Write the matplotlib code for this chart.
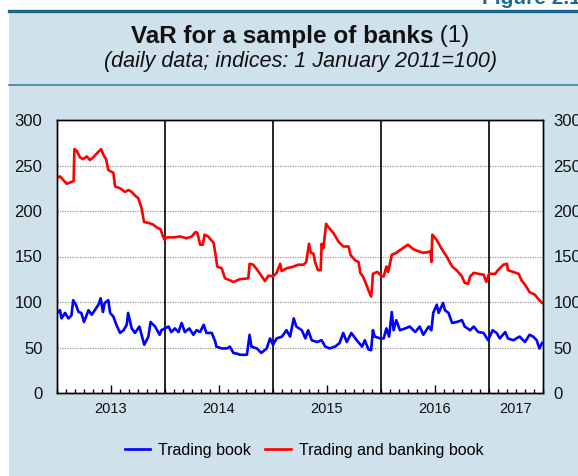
import matplotlib
matplotlib.use("Agg")
import matplotlib.pyplot as plt
from matplotlib.patches import Rectangle
from matplotlib.lines import Line2D
import matplotlib.transforms as mtransforms

plt.rcParams['font.family'] = ['Liberation Sans', 'DejaVu Sans']

# ---- data (x = months since 1 Jan 2013) ----
years = ['2013', '2014', '2015', '2016', '2017']
year_label_pos = [6, 18, 30, 42, 51]
year_bounds = [12, 24, 36, 48]

red_m = [0, 0.33, 0.7, 1.08, 1.63, 1.85, 1.93, 2.2, 2.55, 2.9, 3.3, 3.67, 4.03, 4.4, 4.9, 5.15, 5.45, 5.7,
         6.26, 6.45, 7.0, 7.55, 7.93, 8.3, 8.67, 9.04, 9.4, 9.67, 10.15, 10.7, 11.07, 11.5, 11.7, 11.96,
         12.1, 12.93, 13.67, 14.4, 14.97, 15.4, 15.6, 15.9, 16.2, 16.4, 16.8, 17.4, 17.6, 17.8, 18.3,
         18.67, 19.2, 19.6, 20.3, 21.26, 21.4, 21.8, 22.2, 22.7, 23.1, 23.5, 24.0, 24.4, 24.8, 24.96,
         25.5, 26.3, 26.8, 27.4, 27.7, 28.0, 28.2, 28.5, 28.7, 29.0, 29.3, 29.4, 29.6, 29.9, 30.1, 30.7,
         31.3, 31.8, 32.4, 32.6, 33.1, 33.5, 33.7, 34.0, 34.3, 34.6, 34.9, 35.0, 35.1, 35.6, 36.0, 36.3,
         36.6, 36.8, 37.2, 37.7, 38.1, 38.7, 39.0, 39.6, 40.1, 40.7, 41.3, 41.5, 41.6, 41.7, 42.2, 42.7,
         43.3, 43.9, 44.4, 45.0, 45.3, 45.7, 45.9, 46.3, 46.8, 47.4, 47.7, 48.0, 48.7, 49.0, 49.6, 50.0,
         50.1, 50.7, 51.3, 51.6, 52.0, 52.5, 53.1, 53.5, 53.9]
red_v = [236, 238, 234, 230, 232, 233, 268, 266, 259, 257, 260, 256, 259, 263, 268, 262, 257, 245,
         242, 227, 225, 221, 223, 221, 217, 214, 203, 188, 187, 185, 182, 180, 174, 168,
         171, 171, 172, 170, 172, 177, 176, 163, 163, 174, 172, 165, 153, 139, 137,
         126, 124, 122, 125, 126, 142, 141, 136, 129, 123, 129, 128, 132, 142, 134,
         137, 139, 141, 141, 144, 164, 154, 153, 143, 135, 135, 164, 159, 186, 183, 176,
         166, 161, 161, 152, 146, 144, 132, 128, 121, 113, 106, 115, 131, 133, 129, 128,
         139, 133, 152, 154, 157, 161, 163, 158, 156, 154, 155, 156, 144, 174, 168, 159,
         150, 139, 135, 128, 121, 120, 128, 132, 131, 130, 122, 131, 131, 135, 141, 142,
         135, 133, 131, 124, 119, 111, 108, 103, 99]

blue_m = [0, 0.33, 0.5, 0.9, 1.26, 1.6, 1.8, 2.1, 2.4, 2.7, 3.0, 3.5, 3.85, 4.2, 4.6, 4.85, 5.1, 5.3,
          5.7, 5.9, 6.26, 6.6, 7.0, 7.4, 7.75, 7.9, 8.3, 8.67, 9.15, 9.4, 9.7, 10.15, 10.4, 10.9, 11.4,
          11.6, 12.0, 12.4, 12.7, 13.1, 13.5, 13.85, 14.2, 14.7, 15.15, 15.5, 15.9, 16.3, 16.6, 17.2,
          17.6, 17.7, 18.3, 18.9, 19.2, 19.6, 20.1, 20.3, 21.1, 21.4, 21.6, 22.2, 22.7, 23.3, 23.67,
          24.0, 24.4, 25.0, 25.5, 25.9, 26.3, 26.6, 27.2, 27.6, 27.9, 28.3, 28.9, 29.4, 29.8, 30.3,
          30.9, 31.4, 31.8, 32.2, 32.7, 33.3, 33.9, 34.2, 34.6, 34.9, 35.1, 35.3, 35.9, 36.3, 36.6,
          36.9, 37.2, 37.4, 37.7, 38.1, 38.7, 39.2, 39.8, 40.3, 40.7, 41.3, 41.6, 41.8, 42.2, 42.4,
          42.9, 43.1, 43.5, 43.9, 44.4, 45.0, 45.3, 45.9, 46.3, 46.8, 47.4, 47.9, 48.4, 48.85, 49.2,
          49.8, 50.1, 50.7, 51.4, 52.0, 52.5, 52.9, 53.3, 53.6, 53.9]
blue_v = [88, 91, 82, 88, 82, 85, 102, 97, 89, 88, 78, 91, 86, 91, 97, 104, 89, 99,
          102, 88, 84, 75, 66, 69, 75, 88, 71, 66, 73, 64, 53, 62, 78, 73, 64,
          69, 71, 73, 67, 71, 67, 77, 67, 71, 64, 69, 67, 75, 66, 66,
          56, 51, 49, 49, 51, 44, 43, 42, 42, 64, 51, 49, 44, 49, 60,
          53, 60, 62, 69, 62, 82, 73, 69, 60, 69, 58, 56, 58, 51, 49,
          51, 55, 66, 56, 66, 58, 51, 58, 48, 47, 69, 62, 60, 60, 71,
          62, 89, 69, 80, 69, 71, 73, 67, 73, 64, 73, 69, 88, 97, 88,
          99, 91, 88, 77, 78, 80, 73, 69, 73, 67, 66, 58, 69, 66, 60,
          67, 60, 58, 62, 56, 64, 62, 58, 49, 55]

yticks = [0, 50, 100, 150, 200, 250, 300]

# ---- figure ----
W, H = 578, 476
fig = plt.figure(figsize=(W / 100, H / 100), dpi=100)
fig.patch.set_facecolor('white')
bg = '#cfe1eb'
fig.patches.append(Rectangle((9 / W, 0), 1 - 9 / W, 1 - 10 / H, transform=fig.transFigure,
                             facecolor=bg, edgecolor='none', zorder=-2))
fig.lines.append(Line2D([9 / W, 1], [1 - 10.5 / H, 1 - 10.5 / H], transform=fig.transFigure,
                        color='#1b6588', lw=2.4, zorder=-1))
fig.lines.append(Line2D([9 / W, 1], [1 - 84.5 / H, 1 - 84.5 / H], transform=fig.transFigure,
                        color='#4a8bab', lw=1.3, zorder=-1))

fig.text(482 / W, 1 - 4 / H, 'Figure 2.11', color='#1b6a9a', fontsize=15, fontweight='bold',
         ha='left', va='baseline')

# title (bold part + regular part), centered on plot
cx = 300 / W
t1 = fig.text(cx, 1 - 36 / H, 'VaR for a sample of banks', fontsize=17.5, fontweight='bold',
              ha='left', va='center', color='#111111')
t2 = fig.text(cx, 1 - 36 / H, ' (1)', fontsize=17.5, ha='left', va='center', color='#111111')
fig.canvas.draw()
r = fig.canvas.get_renderer()
w1 = t1.get_window_extent(r).width / W
w2 = t2.get_window_extent(r).width / W
x0 = cx - (w1 + w2) / 2
t1.set_x(x0)
t2.set_x(x0 + w1)
fig.text(cx, 1 - 62 / H, '(daily data; indices: 1 January 2011=100)', fontsize=15.5, style='italic',
         ha='center', va='center', color='#111111')

ax = fig.add_axes([57 / W, 1 - 393 / H, (543 - 57) / W, 273 / H])
ax.set_facecolor('white')
ax.set_xlim(0, 54)
ax.set_ylim(0, 300)
ax.set_yticks(yticks)
ax.tick_params(axis='y', length=0, labelsize=12, pad=10.5, labelcolor='#111111')
for yv in yticks[1:-1]:
    ax.axhline(yv, color='#9a9a9a', lw=0.9, ls=(0, (1, 1)), zorder=1)
for xb in year_bounds:
    ax.axvline(xb, color='black', lw=1.2, zorder=2)

ax2 = ax.twinx()
ax2.set_ylim(0, 300)
ax2.set_yticks(yticks)
ax2.tick_params(axis='y', length=0, labelsize=12, pad=7.5, labelcolor='#111111')

ax.set_xticks([6, 18, 30, 42])
ax.set_xticks(range(0, 55), minor=True)
ax.tick_params(axis='x', which='major', direction='in', length=6, width=1, labelbottom=False, top=False)
ax.tick_params(axis='x', which='minor', direction='in', length=3, width=1, top=False)
trans = mtransforms.blended_transform_factory(ax.transData, ax.transAxes)
for lab, pos in zip(years, year_label_pos):
    ax.text(pos, -0.058, lab, transform=trans, ha='center', va='center', fontsize=10.5, color='#111111')

for a in (ax, ax2):
    for s in a.spines.values():
        s.set_color('black')
        s.set_linewidth(1.0)

lb, = ax.plot(blue_m, blue_v, color='#0000ff', lw=1.9, zorder=3)
lr, = ax.plot(red_m, red_v, color='#ff0000', lw=1.9, zorder=3)

fig.legend([lb, lr], ['Trading book', 'Trading and banking book'], loc='center',
           bbox_to_anchor=(304 / W, 1 - 450 / H), ncol=2, frameon=False, fontsize=11.5,
           handlelength=1.6, handletextpad=0.5, columnspacing=0.9)

fig.savefig('out.png', dpi=100, facecolor=fig.get_facecolor())
